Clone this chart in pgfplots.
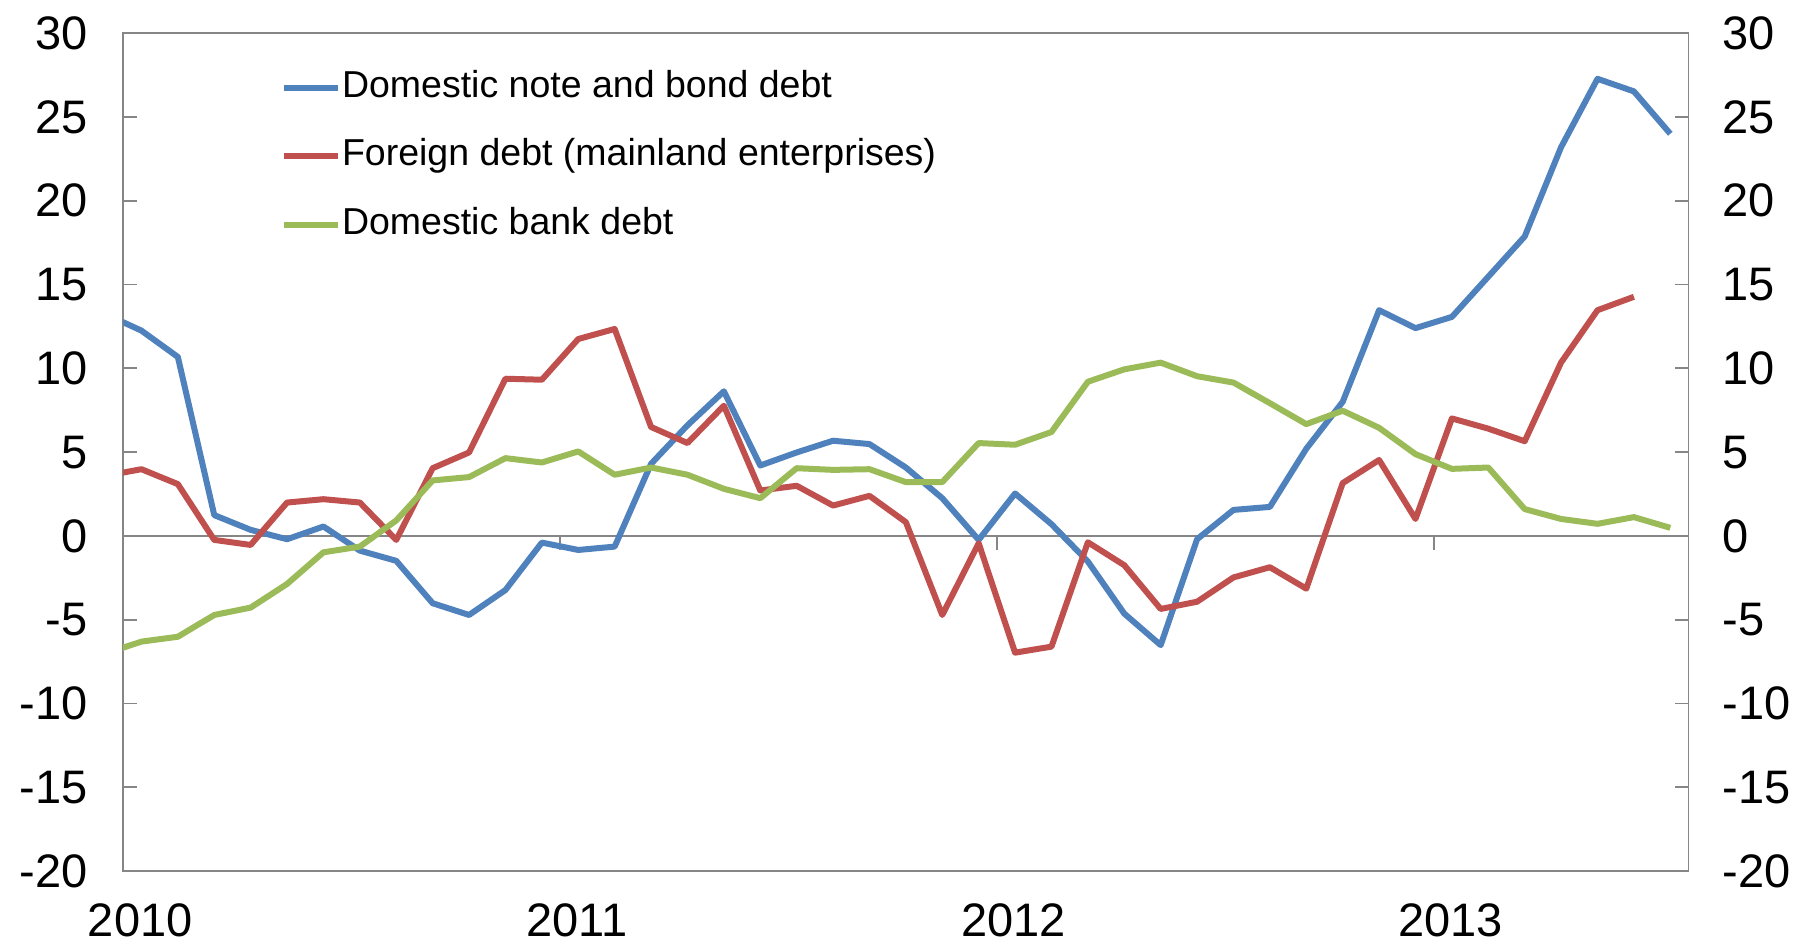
\documentclass[border=0pt]{standalone}
\usepackage{pgfplots}
\pgfplotsset{compat=1.18}
\usepackage{fontspec}
\setmainfont{Liberation Sans}
\definecolor{sblue}{HTML}{4F81BD}
\definecolor{sred}{HTML}{C0504D}
\definecolor{sgreen}{HTML}{9BBB59}
\definecolor{axgray}{HTML}{868686}
\begin{document}
\begin{tikzpicture}
\path[use as bounding box] (-49.3pt,-30.8pt) rectangle (671.5pt,348.4pt);
\begin{axis}[
  at={(0pt,0pt)}, anchor=south west,
  scale only axis, width=626.1pt, height=335.1pt,
  xmin=0, xmax=43, ymin=-20, ymax=30,
  axis line style={draw=axgray, line width=0.7pt},
  xtick={0,12,24,36}, xticklabels={2010,2011,2012,2013},
  xtick style={draw=none},
  xticklabel style={xshift=6.8pt, yshift=-9.4pt},
  ytick={-20,-15,...,30},
  ytick pos=left,
  tick align=inside,
  major tick length=5.6pt,
  ytick style={draw=axgray, line width=0.7pt},
  yticklabel style={xshift=-10.7pt},
  tick label style={font=\fontsize{18.8}{22}\selectfont},
  /pgf/number format/assume math mode=true,
  legend style={at={(0.1005,0.957)}, anchor=north west, draw=none, fill=none,
    inner sep=0pt, font=\fontsize{15}{18}\selectfont, row sep=13.2pt,
    nodes={inner sep=0pt, text height=11pt, text depth=3.2pt},
    /tikz/every odd column/.append style={column sep=0.6pt}},
  legend cell align=left,
  legend image code/.code={\draw[#1] (0pt,0pt) -- (21.4pt,0pt);},
  every axis plot/.append style={line width=2.4pt, line join=round},
]
\draw[axgray, line width=0.7pt] (axis cs:0,0) -- (axis cs:43,0);
\draw[axgray, line width=0.7pt] (axis cs:12,0) -- ++(0pt,-5.6pt);
\draw[axgray, line width=0.7pt] (axis cs:24,0) -- ++(0pt,-5.6pt);
\draw[axgray, line width=0.7pt] (axis cs:36,0) -- ++(0pt,-5.6pt);
\addplot[sblue] coordinates {
(-0.5,13.25) (0.5,12.25) (1.5,10.68) (2.5,1.24) (3.5,0.36) (4.5,-0.2) (5.5,0.56) (6.5,-0.88) (7.5,-1.49) (8.5,-4.02) (9.5,-4.72) (10.5,-3.23) (11.5,-0.4)
(12.5,-0.84) (13.5,-0.64) (14.5,4.3) (15.5,6.6) (16.5,8.63) (17.5,4.2) (18.5,4.98) (19.5,5.68) (20.5,5.48) (21.5,4.08) (22.5,2.25) (23.5,-0.24)
(24.5,2.53) (25.5,0.7) (26.5,-1.53) (27.5,-4.64) (28.5,-6.52) (29.5,-0.2) (30.5,1.55) (31.5,1.73) (32.5,5.2) (33.5,8.0) (34.5,13.47) (35.5,12.4)
(36.5,13.07) (37.5,15.47) (38.5,17.87) (39.5,23.2) (40.5,27.28) (41.5,26.53) (42.5,24.0)
};
\addlegendentry{Domestic note and bond debt}
\addplot[sred] coordinates {
(-0.5,3.58) (0.5,3.98) (1.5,3.09) (2.5,-0.24) (3.5,-0.54) (4.5,1.99) (5.5,2.19) (6.5,1.99) (7.5,-0.24) (8.5,4.04) (9.5,4.98) (10.5,9.38) (11.5,9.32)
(12.5,11.75) (13.5,12.35) (14.5,6.5) (15.5,5.54) (16.5,7.77) (17.5,2.71) (18.5,2.99) (19.5,1.81) (20.5,2.39) (21.5,0.82) (22.5,-4.72) (23.5,-0.44)
(24.5,-6.97) (25.5,-6.61) (26.5,-0.38) (27.5,-1.75) (28.5,-4.36) (29.5,-3.93) (30.5,-2.48) (31.5,-1.87) (32.5,-3.15) (33.5,3.15) (34.5,4.53) (35.5,1.01)
(36.5,7.01) (37.5,6.4) (38.5,5.65) (39.5,10.35) (40.5,13.47) (41.5,14.27)
};
\addlegendentry{Foreign debt (mainland enterprises)}
\addplot[sgreen] coordinates {
(-0.5,-7.03) (0.5,-6.31) (1.5,-6.02) (2.5,-4.72) (3.5,-4.28) (4.5,-2.87) (5.5,-0.98) (6.5,-0.64) (7.5,0.92) (8.5,3.31) (9.5,3.51) (10.5,4.64) (11.5,4.38)
(12.5,5.04) (13.5,3.65) (14.5,4.08) (15.5,3.65) (16.5,2.81) (17.5,2.25) (18.5,4.04) (19.5,3.94) (20.5,3.98) (21.5,3.21) (22.5,3.21) (23.5,5.54)
(24.5,5.44) (25.5,6.2) (26.5,9.2) (27.5,9.94) (28.5,10.34) (29.5,9.53) (30.5,9.15) (31.5,7.92) (32.5,6.67) (33.5,7.47) (34.5,6.45) (35.5,4.88)
(36.5,4.0) (37.5,4.08) (38.5,1.6) (39.5,1.01) (40.5,0.72) (41.5,1.12) (42.5,0.48)
};
\addlegendentry{Domestic bank debt}
\end{axis}
\begin{axis}[
  at={(0pt,0pt)}, anchor=south west,
  scale only axis, width=626.1pt, height=335.1pt,
  xmin=0, xmax=43, ymin=-20, ymax=30,
  axis x line=none, axis y line*=right,
  axis line style={draw=axgray, line width=0.7pt, -},
  ytick={-20,-15,...,30},
  tick align=inside,
  major tick length=5.6pt,
  ytick style={draw=axgray, line width=0.7pt},
  yticklabel style={xshift=10pt},
  tick label style={font=\fontsize{18.8}{22}\selectfont},
  /pgf/number format/assume math mode=true,
]
\end{axis}
\end{tikzpicture}
\end{document}
